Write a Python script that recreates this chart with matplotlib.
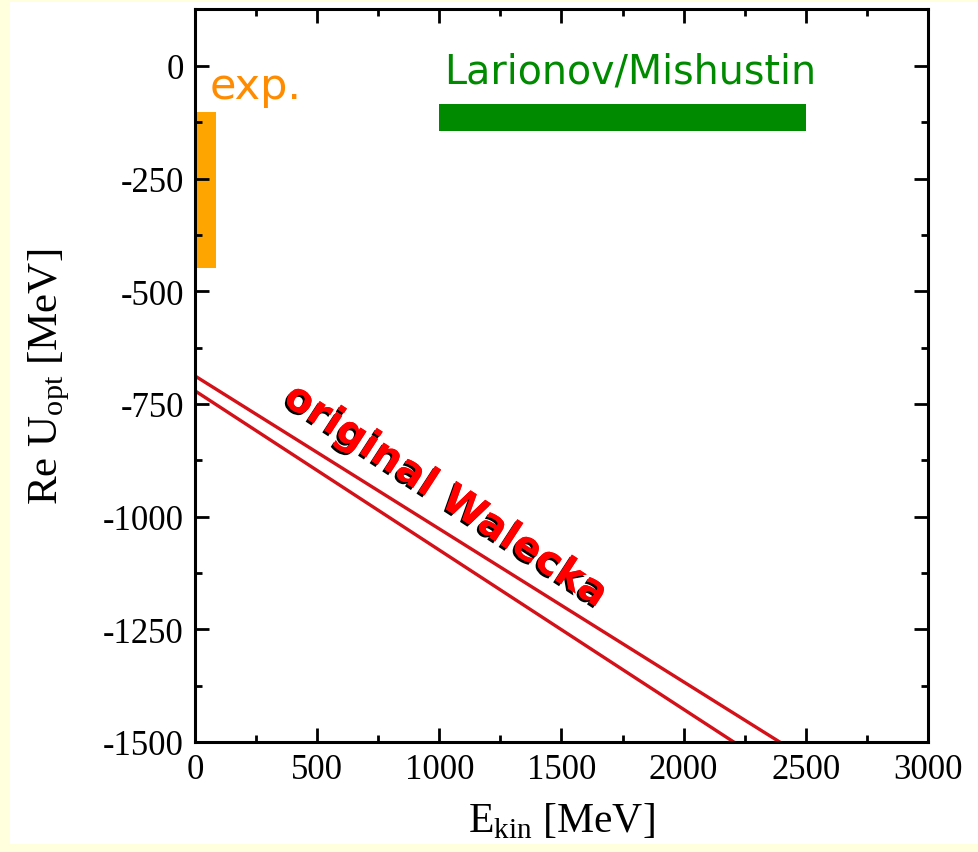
import matplotlib
matplotlib.use("Agg")
import matplotlib.pyplot as plt
import matplotlib.patheffects as pe
from matplotlib.patches import Rectangle
from matplotlib.ticker import MultipleLocator

plt.rcParams["axes.unicode_minus"] = False

# data
walecka_upper_x = [0, 2393]
walecka_upper_y = [-688, -1500]
walecka_lower_x = [0, 2205]
walecka_lower_y = [-721, -1500]
exp_x = [0, 85]
exp_y = [-102, -449]
lm_x = [1000, 2500]
lm_y = [-84, -144]
xticks = [0, 500, 1000, 1500, 2000, 2500, 3000]
yticks = [0, -250, -500, -750, -1000, -1250, -1500]

fig = plt.figure(figsize=(9.79, 8.53), dpi=100)
fig.patch.set_facecolor("#FFFFDD")
bg = Rectangle((10/979, 1-845/853), 1-10/979, (845-3)/853,
               transform=fig.transFigure, facecolor="white",
               edgecolor="none", zorder=-10)
fig.patches.append(bg)
ax = fig.add_axes([195/979, 1-743/853, (928-195)/979, (743-10)/853])
ax.set_zorder(5)
ax.set_xlim(0, 3000)
ax.set_ylim(-1500, 126)

ax.plot(walecka_upper_x, walecka_upper_y, color="#D41018", lw=2.4)
ax.plot(walecka_lower_x, walecka_lower_y, color="#D41018", lw=2.4)
ax.fill_between(exp_x, exp_y[0], exp_y[1], color="#FFA500", lw=0)
ax.fill_between(lm_x, lm_y[0], lm_y[1], color="#008A00", lw=0)

ax.text(60, -45, "exp.", color="#FF8C00", fontsize=31, ha="left", va="center",
        family="DejaVu Sans")
ax.text(1783, -12, "Larionov/Mishustin", color="#008A00", fontsize=28.5,
        ha="center", va="center", family="DejaVu Sans")
t = ax.text(1025, -954, "original Walecka", color="#FF0000", fontsize=29,
            fontweight="bold", ha="center", va="center", rotation=-33,
            family="DejaVu Sans", rotation_mode="anchor")
t.set_path_effects([pe.withSimplePatchShadow(offset=(-1.5, -1.5), shadow_rgbFace="black", alpha=1.0),
                    pe.Normal()])

ax.set_xticks(xticks)
ax.set_yticks(yticks)
ax.xaxis.set_minor_locator(MultipleLocator(250))
ax.yaxis.set_minor_locator(MultipleLocator(125))
ax.tick_params(which="both", direction="in", top=True, right=True, width=2)
ax.tick_params(which="major", length=10, labelsize=25, pad=8)
ax.tick_params(which="minor", length=5)
for lab in ax.get_xticklabels() + ax.get_yticklabels():
    lab.set_family("Liberation Serif")
for s in ax.spines.values():
    s.set_linewidth(2.2)

ax.set_xlabel(r"E$_\mathregular{kin}$ [MeV]", family="Liberation Serif", fontsize=30, labelpad=10)
ax.set_ylabel(r"Re U$_\mathregular{opt}$ [MeV]", family="Liberation Serif", fontsize=31, labelpad=22)

fig.savefig("out.png", dpi=100, facecolor=fig.get_facecolor())
